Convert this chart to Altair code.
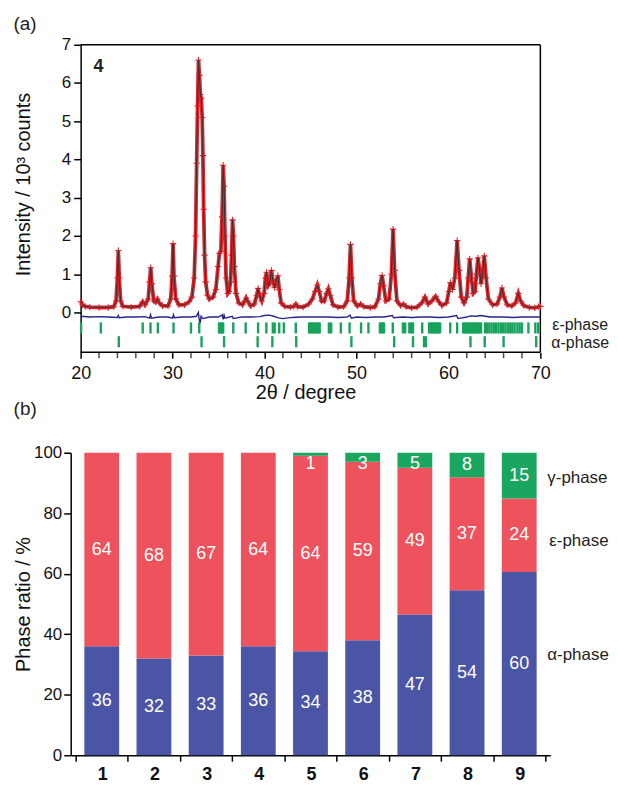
import altair as alt
import pandas as pd

FONT = "Liberation Sans"
OBS_RED = "#e62229"
CALC_COL = "#333333"
DIFF_COL = "#25258c"
TICK_GREEN = "#18a35c"
BLUE = "#4a55a5"
RED = "#ee525c"
GREEN = "#1ba65f"

# ---------------- (a) XRD pattern of sample 4 ----------------
two_theta = [20.0, 20.2, 20.5, 21.0, 22.0, 23.0, 23.6, 23.85, 24.0, 24.1, 24.2, 24.35, 24.6, 25.5,
             26.4, 26.75, 27.0, 27.35, 27.5, 27.62, 27.75, 27.95, 28.15, 28.35, 28.55, 28.9, 29.5,
             29.8, 29.95, 30.05, 30.15, 30.35, 30.7, 31.3, 31.8, 32.1, 32.35, 32.5, 32.62, 32.72,
             32.82, 32.92, 33.02, 33.12, 33.22, 33.3, 33.38, 33.48, 33.6, 33.8, 34.0, 34.4, 34.7,
             34.95, 35.1, 35.25, 35.38, 35.5, 35.6, 35.7, 35.82, 36.0, 36.15, 36.3, 36.42, 36.52,
             36.62, 36.72, 36.9, 37.2, 37.6, 37.85, 38.0, 38.15, 38.5, 38.9, 39.15, 39.3, 39.45,
             39.7, 39.95, 40.1, 40.22, 40.4, 40.55, 40.75, 40.9, 41.1, 41.3, 41.45, 41.6, 41.8,
             42.2, 42.8, 43.2, 43.4, 43.6, 44.2, 44.8, 45.2, 45.5, 45.75, 45.95, 46.2, 46.5, 46.75,
             46.95, 47.15, 47.45, 48.0, 48.6, 49.0, 49.2, 49.35, 49.5, 49.7, 50.1, 50.45, 50.8,
             51.5, 52.0, 52.4, 52.6, 52.78, 52.95, 53.2, 53.55, 53.8, 53.98, 54.15, 54.4, 54.8,
             55.1, 55.4, 56.0, 56.6, 57.1, 57.45, 57.8, 58.2, 58.6, 58.95, 59.3, 59.8, 60.05,
             60.22, 60.45, 60.7, 60.95, 61.15, 61.4, 61.7, 62.0, 62.15, 62.32, 62.5, 62.7, 62.9,
             63.05, 63.22, 63.4, 63.55, 63.72, 63.9, 64.1, 64.35, 64.8, 65.3, 65.6, 65.82, 66.05,
             66.4, 66.9, 67.3, 67.6, 67.85, 68.2, 68.8, 69.4, 69.8, 70.0]
intensity = [0.28, 0.2, 0.16, 0.14, 0.13, 0.13, 0.15, 0.3, 0.9, 1.62, 0.9, 0.3, 0.16, 0.14,
             0.16, 0.28, 0.2, 0.35, 0.8, 1.17, 0.75, 0.3, 0.27, 0.35, 0.25, 0.17, 0.17,
             0.35, 0.95, 1.8, 0.95, 0.35, 0.2, 0.2, 0.28, 0.4, 0.9, 2.0, 3.9, 5.4,
             6.6, 6.2, 5.7, 5.6, 5.1, 4.1, 2.7, 1.5, 0.8, 0.45, 0.35, 0.4, 0.6,
             1.2, 1.55, 1.6, 2.5, 3.85, 3.3, 2.0, 0.9, 0.5, 0.55, 0.8, 1.5, 2.42,
             2.0, 1.2, 0.5, 0.25, 0.2, 0.3, 0.38, 0.3, 0.17, 0.22, 0.45, 0.63, 0.45,
             0.3, 0.5, 0.9, 1.05, 0.7, 0.75, 1.1, 0.85, 0.65, 0.85, 0.96, 0.6, 0.25,
             0.16, 0.14, 0.16, 0.22, 0.15, 0.14, 0.22, 0.35, 0.55, 0.72, 0.55, 0.3, 0.3, 0.5,
             0.62, 0.45, 0.2, 0.14, 0.15, 0.3, 0.9, 1.78, 0.9, 0.3, 0.17, 0.22, 0.15,
             0.13, 0.15, 0.35, 0.75, 0.97, 0.7, 0.3, 0.35, 1.0, 2.18, 1.1, 0.3, 0.18,
             0.22, 0.15, 0.12, 0.14, 0.25, 0.4, 0.22, 0.3, 0.42, 0.28, 0.18, 0.25, 0.55,
             0.78, 0.6, 0.9, 1.88, 1.1, 0.4, 0.25, 0.4, 0.9, 1.4, 0.9, 0.5, 0.55,
             1.0, 1.43, 1.1, 0.75, 1.0, 1.48, 0.9, 0.35, 0.2, 0.22, 0.4, 0.64, 0.4,
             0.2, 0.17, 0.25, 0.5, 0.3, 0.18, 0.13, 0.12, 0.15, 0.16]

diff_theta = [20, 21, 22, 23, 24, 24.1, 24.2, 25, 26, 27, 27.5, 27.6, 27.7, 28.5, 29.5, 30.0,
              30.1, 30.2, 31, 32, 32.6, 32.8, 32.9, 33.0, 33.1, 33.3, 34, 35, 35.4, 35.5, 35.6,
              35.7, 36.5, 36.6, 37.5, 38.5, 39.5, 40.0, 40.5, 41.0, 41.5, 42, 43, 44, 45, 46,
              47, 48, 49, 49.3, 49.45, 50, 51, 52, 53, 53.9, 54.05, 55, 56, 57, 58, 59, 60,
              60.9, 61.05, 62, 62.4, 63, 63.5, 64.0, 64.5, 65, 66, 67, 68, 69, 70]
diff_val = [-0.1, -0.12, -0.11, -0.12, -0.13, -0.08, -0.14, -0.12, -0.12, -0.11, -0.15, -0.06,
            -0.15, -0.12, -0.12, -0.15, -0.06, -0.14, -0.12, -0.12, -0.1, 0.0, -0.2, -0.28,
            -0.1, -0.16, -0.12, -0.12, -0.06, -0.18, -0.07, -0.15, -0.1, -0.16, -0.12, -0.12,
            -0.11, -0.08, -0.07, -0.1, -0.14, -0.16, -0.13, -0.12, -0.12, -0.12, -0.12, -0.13,
            -0.12, -0.07, -0.15, -0.12, -0.13, -0.12, -0.12, -0.08, -0.14, -0.12, -0.13, -0.12,
            -0.12, -0.13, -0.12, -0.08, -0.16, -0.12, -0.09, -0.1, -0.08, -0.1, -0.12, -0.12,
            -0.12, -0.13, -0.12, -0.12, -0.12]

eps_reflections = [20.05, 22.2, 26.75, 27.6, 28.4, 30.1, 32.0, 32.9, 35.05, 35.2, 35.35, 35.5,
                   36.6, 37.95, 39.3, 40.2, 40.9, 41.1, 41.6, 42.1, 43.4, 44.85, 45.0, 45.15,
                   45.3, 45.5, 45.65, 45.8, 46.0, 47.0, 47.25, 48.3, 49.25, 50.5, 51.3, 52.55,
                   52.7, 52.85, 53.0, 53.95, 55.05, 55.3, 55.75, 55.95, 56.15, 57.15, 57.9, 58.05,
                   58.2, 58.35, 58.5, 58.65, 58.8, 58.95, 59.1, 60.2, 60.95, 61.6, 61.75, 61.9,
                   62.05, 62.2, 62.35, 62.5, 62.65, 62.8, 62.95, 63.1, 63.25, 63.4, 63.55, 64.0,
                   64.2, 64.45, 64.7, 64.95, 65.2, 65.45, 65.7, 65.95, 66.2, 66.45, 66.7, 66.95,
                   67.2, 67.5, 67.75, 68.0, 68.7, 69.45, 69.75]
alpha_reflections = [24.15, 33.15, 35.6, 39.25, 40.85, 43.45, 49.45, 54.1, 56.15, 57.35, 57.55,
                     62.4, 63.95, 66.0, 69.55]
x_major = [20, 30, 40, 50, 60, 70]
x_minor = [22, 24, 26, 28, 32, 34, 36, 38, 42, 44, 46, 48, 52, 54, 56, 58, 62, 64, 66, 68]

# ---------------- (b) phase ratios ----------------
samples = [1, 2, 3, 4, 5, 6, 7, 8, 9]
alpha_pct = [36, 32, 33, 36, 34, 38, 47, 54, 60]
eps_pct = [64, 68, 67, 64, 64, 59, 49, 37, 24]
gamma_pct = [0, 0, 0, 0, 1, 3, 5, 8, 15]

# ---------------- layout constants ----------------
W_A, H_A = 472, 309
PX_PER_DEG = 462 / 50.0
X_MAX = 70.0
X_MIN = X_MAX - W_A / PX_PER_DEG
Y_MIN, Y_MAX = -1.04, 7.0
W_B, H_B = 482, 304
STEP_B = W_B / 9.0

prof = pd.DataFrame({"x": two_theta, "y": intensity})
diff = pd.DataFrame({"x": diff_theta, "y": diff_val})
eps_df = pd.DataFrame({"x": eps_reflections})
alp_df = pd.DataFrame({"x": alpha_reflections})
minor_df = pd.DataFrame({"x": x_minor})
frame_df = pd.DataFrame({"x": [20.0, 20.0, X_MAX], "x2": [X_MAX, X_MAX, X_MAX],
                         "y": [Y_MIN, Y_MAX, Y_MIN], "y2": [Y_MIN, Y_MAX, Y_MAX]})

xs_a = alt.Scale(domain=[X_MIN, X_MAX], nice=False, zero=False)
ys_a = alt.Scale(domain=[Y_MIN, Y_MAX], nice=False, zero=False)
ax_xa = alt.Axis(title="2θ / degree", values=x_major,
                 domain=False, grid=False, tickSize=6, labelPadding=6, labelFontSize=18,
                 titleFontSize=20, titlePadding=1, labelFlush=False, labelOverlap=False)
ax_ya = alt.Axis(title="Intensity / 10³ counts", values=list(range(0, 8)), offset=-10,
                 tickSize=7, labelPadding=3, labelFontSize=17, titleFontSize=20,
                 titlePadding=28, titleY=140, grid=False, labelFlush=False, labelOverlap=False)


def XA(f):
    return alt.X(f, type="quantitative", scale=xs_a, axis=ax_xa)


def YA(f):
    return alt.Y(f, type="quantitative", scale=ys_a, axis=ax_ya)


cross = "M-1,0L1,0M0,-1L0,1"

obs_line = alt.Chart(prof).mark_line(color=OBS_RED, strokeWidth=3.8).encode(x=XA("x"), y=YA("y"))
obs_pts = alt.Chart(prof).mark_point(shape=cross, size=40, color=OBS_RED, strokeWidth=1.1,
                                     filled=False, opacity=1).encode(x=XA("x"), y=YA("y"))
calc_line = alt.Chart(prof).mark_line(color=CALC_COL, strokeWidth=1).encode(x=XA("x"), y=YA("y"))
diff_line = alt.Chart(diff).mark_line(color=DIFF_COL, strokeWidth=1.4).encode(x=XA("x"), y=YA("y"))
eps_ticks = alt.Chart(eps_df).mark_rule(color=TICK_GREEN, strokeWidth=2.4).encode(
    x=XA("x"), y=alt.datum(-0.26), y2=alt.datum(-0.55))
alp_ticks = alt.Chart(alp_df).mark_rule(color=TICK_GREEN, strokeWidth=2.4).encode(
    x=XA("x"), y=alt.datum(-0.62), y2=alt.datum(-0.91))
# minor ticks of the 2θ axis (6 px below the frame)
minor_ticks = alt.Chart(minor_df).mark_tick(color="black", thickness=1.5, size=6,
                                            orient="vertical", yOffset=3).encode(
    x=XA("x"), y=alt.datum(Y_MIN))
frame = alt.Chart(frame_df).mark_rule(color="black", strokeWidth=1.5).encode(
    x=XA("x"), x2="x2", y=YA("y"), y2="y2")
lab4 = alt.Chart().mark_text(text="4", fontWeight="bold", fontSize=18, align="left",
                             baseline="middle", color="#222").encode(
    x=alt.datum(21.4), y=alt.datum(6.42))
lab_eps = alt.Chart().mark_text(text="ε-phase", fontSize=16, align="left", baseline="middle",
                                dx=12, color="#222").encode(x=alt.datum(X_MAX), y=alt.datum(-0.33))
lab_alp = alt.Chart().mark_text(text="α-phase", fontSize=16, align="left", baseline="middle",
                                dx=11, color="#222").encode(x=alt.datum(X_MAX), y=alt.datum(-0.81))

top = alt.layer(frame, minor_ticks, eps_ticks, alp_ticks, diff_line, obs_line, obs_pts, calc_line,
                lab4, lab_eps, lab_alp).properties(
    width=W_A, height=H_A,
    title=alt.Title("(a)", anchor="start", frame="bounds", fontSize=19, fontWeight="normal",
                    offset=2, color="#222"))

# ---------------- bottom chart ----------------
rows, labels = [], []
for s, a, e, g in zip(samples, alpha_pct, eps_pct, gamma_pct):
    t = a + e + g
    an, en, gn = a / t * 100, e / t * 100, g / t * 100
    rows += [{"sample": s, "phase": "α", "pct": an, "ord": 0},
             {"sample": s, "phase": "ε", "pct": en, "ord": 1},
             {"sample": s, "phase": "γ", "pct": gn, "ord": 2}]
    labels.append({"sample": s, "ypos": an / 2, "txt": str(a)})
    labels.append({"sample": s, "ypos": an + en / 2, "txt": str(e)})
    if g > 0:
        labels.append({"sample": s, "ypos": min(100 - gn / 2, 96.4), "txt": str(g)})
df_b = pd.DataFrame(rows)
df_l = pd.DataFrame(labels)

xs_b = alt.Scale(domain=[0.5, 9.5], nice=False, zero=False)
ys_b = alt.Scale(domain=[0, 100], nice=False)
ax_xb = alt.Axis(title=None, values=[0.5 + i for i in range(10)],
                 labelExpr="datum.value < 9 ? format(datum.value + 0.5, 'd') : ''",
                 labelOffset=STEP_B / 2, tickSize=6, labelPadding=4, labelFontSize=18,
                 labelFontWeight="bold", labelFlush=False, labelOverlap=False, grid=False)
ax_yb = alt.Axis(title="Phase ratio / %", values=list(range(0, 101, 10)),
                 labelExpr="datum.value % 20 === 0 ? datum.label : ''",
                 tickSize=7, labelPadding=2, labelFontSize=17, titleFontSize=20,
                 titlePadding=0, grid=False, labelFlush=False, labelOverlap=False)

bars = alt.Chart(df_b).mark_bar(size=35).encode(
    x=alt.X("sample:Q", scale=xs_b, axis=ax_xb),
    y=alt.Y("pct:Q", stack="zero", scale=ys_b, axis=ax_yb),
    color=alt.Color("phase:N", scale=alt.Scale(domain=["α", "ε", "γ"], range=[BLUE, RED, GREEN]),
                    legend=None),
    order=alt.Order("ord:Q"))
bar_text = alt.Chart(df_l).mark_text(color="white", fontSize=18, baseline="middle").encode(
    x=alt.X("sample:Q", scale=xs_b, axis=ax_xb),
    y=alt.Y("ypos:Q", scale=ys_b, axis=ax_yb),
    text="txt:N")
lab_g = alt.Chart().mark_text(text="γ-phase", fontSize=17, align="left", baseline="middle",
                              dx=2, color="#222").encode(x=alt.datum(9.5), y=alt.datum(91.5))
lab_e = alt.Chart().mark_text(text="ε-phase", fontSize=17, align="left", baseline="middle",
                              dx=4, color="#222").encode(x=alt.datum(9.5), y=alt.datum(70.8))
lab_a = alt.Chart().mark_text(text="α-phase", fontSize=17, align="left", baseline="middle",
                              dx=2, color="#222").encode(x=alt.datum(9.5), y=alt.datum(33))

bottom = alt.layer(bars, bar_text, lab_g, lab_e, lab_a).properties(
    width=W_B, height=H_B,
    title=alt.Title("(b)", anchor="start", frame="bounds", fontSize=19, fontWeight="normal",
                    offset=25, color="#222"))

chart = alt.vconcat(top, bottom, spacing=101, bounds="flush").properties(
    padding={"left": 5, "top": 5, "right": 0, "bottom": 5}
).configure(font=FONT).configure_view(stroke=None).configure_axis(
    domainColor="black", tickColor="black", labelColor="#111", titleColor="#111",
    domainWidth=1.5, tickWidth=1.5, titleFontWeight="normal", labelFont=FONT, titleFont=FONT,
    labelOverlap=False)

chart.save("out.html", embed_options={"renderer": "svg", "actions": False})
